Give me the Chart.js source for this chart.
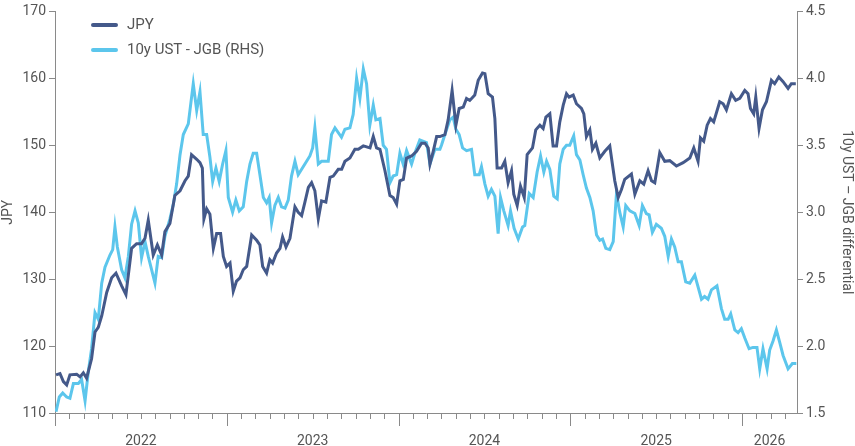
<!DOCTYPE html>
<html><head><meta charset="utf-8">
<script src="https://cdn.jsdelivr.net/npm/chart.js@4.4.1/dist/chart.umd.min.js"></script>
<style>
html,body{margin:0;padding:0;background:#fff;}
#wrap{position:relative;width:855px;height:446px;}
#legend{position:absolute;left:91px;top:12px;font-family:Roboto,"Noto Sans",sans-serif;font-size:15px;color:#555;line-height:25px;}
#legend span.k{display:inline-block;width:27px;height:4px;border-radius:2px;vertical-align:middle;margin-right:9px;}
</style></head><body>
<div id="wrap"><canvas id="c" width="855" height="446"></canvas>
<div id="legend"><div><span class="k" style="background:#44598a"></span>JPY</div><div><span class="k" style="background:#5cc6ec"></span>10y UST - JGB (RHS)</div></div></div>
<script>
const baseYear = 2022;
// time in years since start of 2022
const jpyT = [0.006,0.029,0.049,0.068,0.087,0.126,0.146,0.165,0.184,0.213,0.233,0.252,0.272,0.301,0.330,0.355,0.388,0.413,0.446,0.475,0.504,0.524,0.543,0.572,0.596,0.621,0.640,0.669,0.698,0.728,0.757,0.776,0.795,0.825,0.844,0.858,0.867,0.883,0.902,0.922,0.941,0.964,0.980,0.999,1.019,1.038,1.057,1.077,1.096,1.116,1.145,1.174,1.193,1.209,1.232,1.251,1.267,1.290,1.310,1.325,1.345,1.368,1.397,1.416,1.436,1.455,1.475,1.494,1.513,1.533,1.552,1.577,1.601,1.620,1.649,1.669,1.688,1.717,1.746,1.766,1.795,1.834,1.853,1.872,1.892,1.921,1.950,1.969,1.989,2.008,2.028,2.047,2.076,2.105,2.134,2.154,2.173,2.183,2.202,2.222,2.241,
2.270,2.289,2.312,2.334,2.353,2.377,2.396,2.415,2.444,2.464,2.489,2.503,2.522,2.547,2.561,2.574,2.600,2.619,2.638,2.658,2.671,2.691,2.710,2.732,2.749,2.780,2.799,2.823,2.842,2.858,2.881,2.900,2.920,2.939,2.959,2.978,2.993,3.017,3.036,3.065,3.079,3.094,3.114,3.129,3.149,3.172,3.201,3.230,3.259,3.279,3.298,3.317,3.356,3.376,3.405,3.428,3.453,3.473,3.492,3.521,3.550,3.579,3.618,3.657,3.696,3.719,3.744,3.758,3.777,3.797,3.816,3.835,3.870,3.890,3.909,3.938,3.963,3.987,4.016,4.035,4.049,4.068,4.080,4.099,4.119,4.142,4.171,4.190,4.214,4.239,4.268,4.287,4.313];
const jpyV = [115.7,115.9,114.7,114.2,115.7,115.8,115.4,116.0,115.2,118.1,122.1,122.8,124.5,128.0,130.2,130.9,129.0,127.7,134.6,135.3,135.3,136.1,138.8,133.6,135.1,133.6,137.1,138.3,142.5,143.2,144.7,145.4,148.6,147.9,147.4,146.6,139.0,140.5,139.7,134.6,136.8,136.8,133.4,131.9,132.4,128.2,129.7,130.2,131.4,131.9,136.6,135.8,135.1,131.9,130.9,132.9,132.4,133.9,134.6,136.3,134.8,136.1,140.8,140.0,139.5,141.5,143.7,144.4,143.2,139.0,141.7,141.5,145.2,145.4,146.4,146.4,147.6,148.1,149.4,149.4,149.9,149.6,151.3,149.6,149.4,146.2,142.5,142.2,141.2,144.7,144.9,148.1,148.4,149.1,150.3,150.3,149.6,147.2,149.1,151.3,151.3,
151.6,153.8,158.2,153.0,155.5,155.7,157.0,156.7,157.5,159.7,160.8,160.7,157.7,157.2,154.0,146.6,146.6,147.6,144.4,146.2,142.7,141.0,143.9,142.2,148.6,149.6,152.3,153.0,152.5,154.2,154.7,149.9,149.9,153.5,156.0,157.7,157.2,157.5,156.2,155.5,154.7,151.3,152.3,149.4,150.3,148.1,149.1,149.9,144.7,142.2,143.4,144.9,145.7,142.7,144.7,144.2,146.2,144.7,144.4,148.9,147.6,147.7,146.9,147.4,148.1,149.6,147.6,151.1,150.6,153.0,154.0,153.5,156.5,156.2,155.3,157.7,156.7,157.0,158.2,157.7,155.5,154.7,157.2,152.5,155.3,156.5,159.7,159.2,160.2,159.5,158.5,159.2,159.2];
const diffT = [0.006,0.025,0.045,0.068,0.087,0.107,0.136,0.155,0.175,0.194,0.213,0.233,0.252,0.272,0.291,0.320,0.336,0.349,0.363,0.388,0.407,0.427,0.446,0.466,0.485,0.504,0.524,0.543,0.582,0.601,0.621,0.640,0.669,0.689,0.708,0.728,0.747,0.776,0.805,0.825,0.844,0.863,0.883,0.902,0.918,0.937,0.956,0.976,0.995,1.009,1.034,1.053,1.073,1.096,1.116,1.135,1.154,1.174,1.193,1.213,1.232,1.247,1.261,1.280,1.300,1.319,1.339,1.358,1.377,1.397,1.416,1.455,1.484,1.500,1.513,1.533,1.552,1.591,1.610,1.630,1.668,1.688,1.717,1.736,1.756,1.775,1.795,1.814,1.833,1.853,1.868,1.892,1.911,1.930,1.950,1.969,1.989,2.008,2.027,2.047,2.076,2.095,2.124,2.163,2.183,2.212,2.241,
2.250,2.270,2.299,2.318,2.334,2.353,2.373,2.396,2.425,2.444,2.470,2.483,2.503,2.522,2.541,2.561,2.580,2.594,2.613,2.638,2.652,2.673,2.697,2.722,2.735,2.761,2.784,2.807,2.827,2.846,2.862,2.881,2.904,2.924,2.939,2.959,2.978,2.997,3.020,3.036,3.056,3.075,3.094,3.114,3.133,3.153,3.172,3.188,3.207,3.230,3.250,3.269,3.288,3.308,3.323,3.347,3.376,3.401,3.420,3.443,3.459,3.478,3.501,3.530,3.550,3.570,3.589,3.608,3.628,3.647,3.672,3.696,3.725,3.764,3.782,3.802,3.822,3.854,3.880,3.899,3.919,3.934,3.958,3.977,3.996,4.016,4.041,4.064,4.087,4.103,4.122,4.146,4.161,4.181,4.200,4.219,4.239,4.268,4.293,4.316];
const diffV = [1.51,1.62,1.65,1.62,1.61,1.72,1.72,1.75,1.59,1.81,1.98,2.25,2.20,2.47,2.59,2.68,2.72,2.89,2.74,2.57,2.51,2.67,2.91,3.01,2.92,2.66,2.78,2.67,2.47,2.67,2.66,2.82,2.95,3.06,3.21,3.43,3.58,3.66,3.96,3.76,3.90,3.58,3.58,3.41,3.23,3.33,3.23,3.36,3.46,3.11,3.00,3.09,3.01,3.04,3.23,3.36,3.44,3.44,3.28,3.11,3.07,3.11,2.92,3.05,3.11,3.04,3.03,3.09,3.27,3.38,3.28,3.36,3.42,3.48,3.63,3.36,3.38,3.38,3.58,3.63,3.56,3.62,3.63,3.73,4.00,3.85,4.07,3.96,3.65,3.80,3.69,3.70,3.50,3.47,3.22,3.27,3.28,3.44,3.36,3.46,3.36,3.44,3.54,3.52,3.36,3.47,3.47,
3.50,3.58,3.69,3.71,3.62,3.58,3.48,3.46,3.47,3.28,3.28,3.34,3.21,3.12,3.17,3.12,2.84,3.11,3.01,2.90,3.01,2.88,2.80,2.89,2.90,3.14,3.11,3.30,3.42,3.30,3.38,3.32,3.12,3.10,3.36,3.47,3.50,3.50,3.57,3.43,3.39,3.28,3.18,3.11,3.01,2.83,2.79,2.80,2.73,2.72,2.78,3.14,3.00,2.89,3.05,3.01,2.99,2.90,3.05,2.99,2.98,2.85,2.91,2.88,2.82,2.67,2.80,2.74,2.63,2.63,2.48,2.47,2.53,2.35,2.37,2.35,2.42,2.45,2.28,2.20,2.20,2.24,2.12,2.10,2.13,2.06,1.98,1.99,1.99,1.83,1.98,1.83,1.97,2.04,2.12,2.03,1.93,1.83,1.87,1.87];
const yearLabels = ['2022','2023','2024','2025','2026'];
const yearLabelPos = [2022.5,2023.5,2024.5,2025.5,2026.16];
const xMin = 2022, xMax = 2026.32;

const toPts = (t,v)=>t.map((x,i)=>({x:baseYear+x,y:v[i]}));
const axisCol = '#8a8a8a', txtCol = '#555';
const font = {family:'Roboto, "Noto Sans", sans-serif', size:14};

const tickPlugin = {
  id:'monthTicks',
  afterDraw(chart){
    const {ctx, chartArea} = chart; const xs = chart.scales.x;
    ctx.save(); ctx.strokeStyle = axisCol; ctx.lineWidth = 1;
    for(let m=0; ; m++){
      const v = xMin + m/12; if(v > xMax+1e-6) break;
      const px = Math.round(xs.getPixelForValue(v))+0.5;
      const len = (m%12===0)?13:6;
      ctx.beginPath(); ctx.moveTo(px, chartArea.bottom); ctx.lineTo(px, chartArea.bottom+len); ctx.stroke();
    }
    ctx.restore();
  }
};

new Chart(document.getElementById('c'), {
  type:'line',
  data:{datasets:[
    {label:'JPY', data:toPts(jpyT,jpyV), yAxisID:'y', borderColor:'#44598a', borderWidth:3, pointRadius:0, tension:0, order:1},
    {label:'10y UST - JGB (RHS)', data:toPts(diffT,diffV), yAxisID:'y1', borderColor:'#5cc6ec', borderWidth:3, pointRadius:0, tension:0, order:2}
  ]},
  options:{
    responsive:false, animation:false,
    layout:{padding:{top:8,left:0,right:0,bottom:0}},
    plugins:{legend:{display:false}, tooltip:{enabled:false}},
    scales:{
      x:{type:'linear', min:xMin, max:xMax,
        afterBuildTicks(s){ s.ticks = yearLabelPos.map(v=>({value:v})); },
        afterFit(s){ s.height = 33; },
        grid:{display:false}, border:{color:axisCol},
        ticks:{autoSkip:false, maxRotation:0, padding:12, color:txtCol, font, callback:(v,i)=>yearLabels[i]}},
      y:{position:'left', min:110, max:170,
        afterFit(s){ s.width = 55; },
        ticks:{stepSize:10, color:txtCol, font, padding:3},
        grid:{drawOnChartArea:false, tickLength:6, color:axisCol}, border:{color:axisCol},
        title:{display:true, text:'JPY', color:txtCol, font, padding:0}},
      y1:{position:'right', min:1.5, max:4.5,
        afterFit(s){ s.width = 58; },
        ticks:{stepSize:0.5, color:txtCol, font, padding:3, callback:v=>v.toFixed(1)},
        grid:{drawOnChartArea:false, tickLength:6, color:axisCol}, border:{color:axisCol},
        title:{display:true, text:'10y UST – JGB differential', color:txtCol, font, padding:0}}
    }
  },
  plugins:[tickPlugin]
});
</script></body></html>
